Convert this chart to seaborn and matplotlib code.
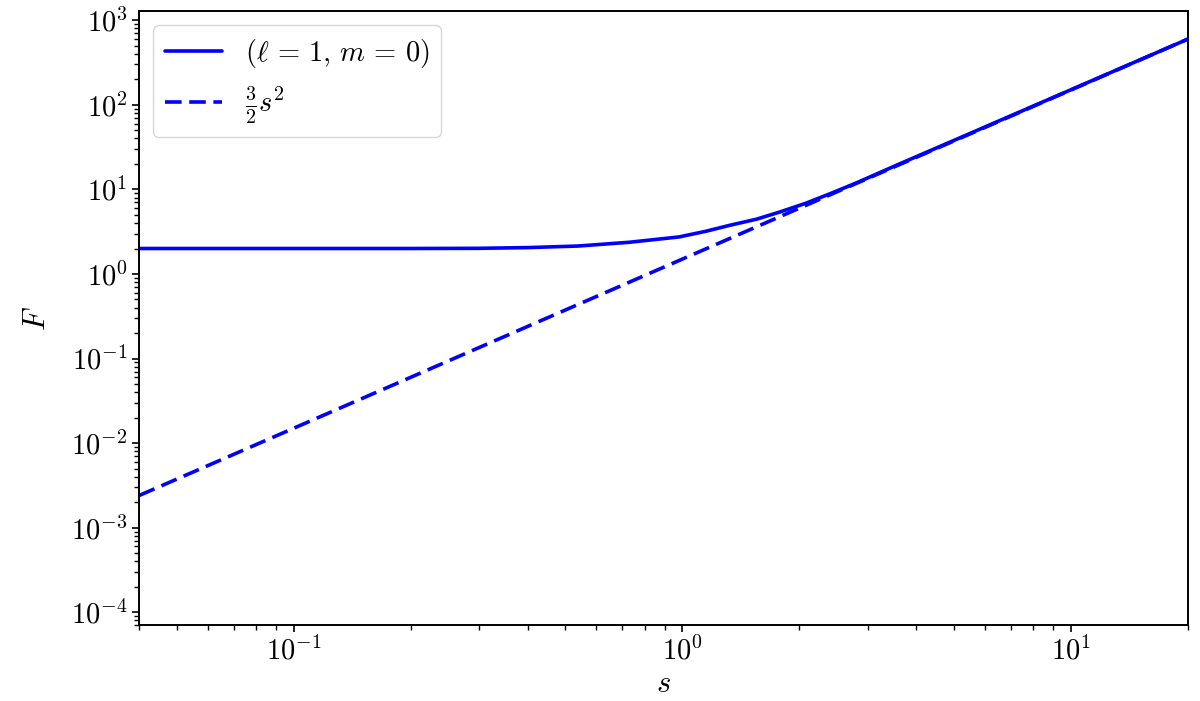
import numpy as np
import pandas as pd
import matplotlib
matplotlib.use('Agg')
import matplotlib.pyplot as plt
import matplotlib.ticker as mticker
import seaborn as sns

# values
s_mode = [0.04, 0.1, 0.2, 0.3, 0.4, 0.54, 0.73, 0.98, 1.15, 1.32, 1.55, 1.78,
          2.08, 2.4, 2.8, 3.6, 5.0, 7.2, 10.0, 14.0, 20.0]
F_mode = [2.0, 2.0, 2.0, 2.01, 2.05, 2.14, 2.37, 2.74, 3.2, 3.75, 4.44, 5.4,
          6.87, 8.9, 11.9, 19.8, 38.0, 78.5, 151.0, 295.0, 600.0]

s_approx = [0.04, 0.1, 0.3, 1.0, 3.0, 10.0, 20.0]
F_approx = [0.0024, 0.015, 0.135, 1.5, 13.5, 150.0, 600.0]

x_ticks = [0.1, 1, 10]
y_ticks = [1e-4, 1e-3, 1e-2, 1e-1, 1, 10, 100, 1000]

label_mode = r'$(\ell\,=\,1,\, m\,=\,0)$'
label_approx = r'$\frac{3}{2}s^2$'

sns.set_style('ticks', {'axes.edgecolor': 'black', 'xtick.color': 'black',
                        'ytick.color': 'black', 'text.color': 'black',
                        'axes.labelcolor': 'black'})
plt.rcParams['mathtext.fontset'] = 'cm'

df_mode = pd.DataFrame({'s': s_mode, 'F': F_mode})
df_approx = pd.DataFrame({'s': s_approx, 'F': F_approx})

fig, ax = plt.subplots(figsize=(12, 7.01), dpi=100)
fig.subplots_adjust(left=0.116, right=0.99, top=0.984, bottom=0.108)

sns.lineplot(data=df_mode, x='s', y='F', color='b', lw=2.6, label=label_mode, ax=ax)
sns.lineplot(data=df_approx, x='s', y='F', color='b', lw=2.6, dashes=False, ax=ax)
ax.lines[-1].set_dashes((4.6, 2.1))
ax.lines[-1].set_label(label_approx)

ax.set_xscale('log')
ax.set_yscale('log')
ax.set_xlim(0.04, 20)
ax.set_ylim(7e-5, 1.28e3)

fmt = mticker.FuncFormatter(lambda v, p: r'$10^{%d}$' % int(round(np.log10(v))))
ax.set_xticks(x_ticks)
ax.set_yticks(y_ticks)
ax.xaxis.set_major_formatter(fmt)
ax.yaxis.set_major_formatter(fmt)
ax.xaxis.set_minor_locator(mticker.LogLocator(base=10, subs=np.arange(2, 10), numticks=20))
ax.yaxis.set_minor_locator(mticker.LogLocator(base=10, subs=np.arange(2, 10), numticks=20))
ax.xaxis.set_minor_formatter(mticker.NullFormatter())
ax.yaxis.set_minor_formatter(mticker.NullFormatter())

ax.tick_params(which='major', length=5, width=1.2, labelsize=20.5)
ax.tick_params(which='minor', length=3.4, width=1.0)
for sp in ax.spines.values():
    sp.set_visible(True)
    sp.set_linewidth(1.4)

ax.set_xlabel('$s$', fontsize=22, labelpad=2)
ax.set_ylabel('$F$', fontsize=22, labelpad=14)

ax.legend(loc='upper left', fontsize=20.5, handlelength=2.0)

plt.savefig('out.png')
plt.close()
